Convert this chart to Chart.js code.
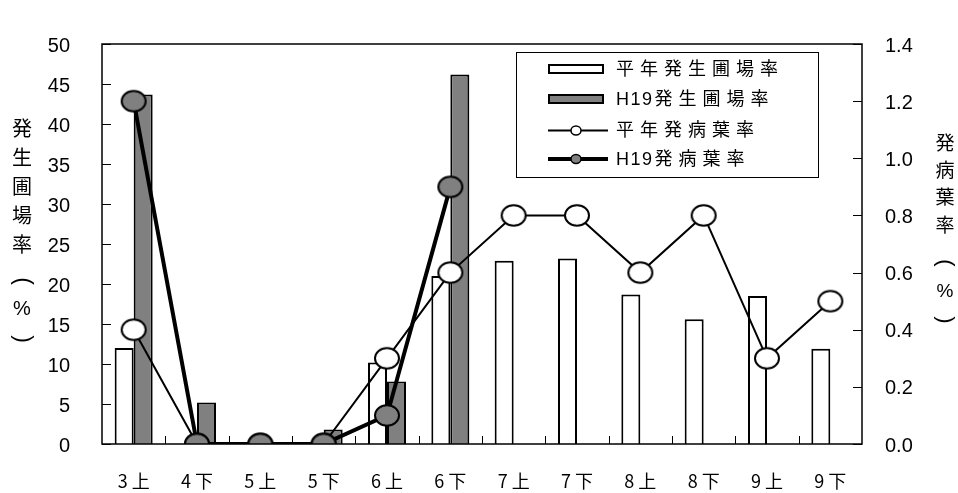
<!DOCTYPE html>
<html>
<head>
<meta charset="utf-8">
<script src="https://cdn.jsdelivr.net/npm/chart.js@4/dist/chart.umd.min.js"></script>
<style>
  html, body { margin: 0; padding: 0; background: #fff; }
  canvas { display: block; }
</style>
</head>
<body>
<canvas id="c" width="958" height="493"></canvas>
<script>
// 旬別カテゴリ
const categories = ['3 上', '4 下', '5 上', '5 下', '6 上', '6 下', '7 上', '7 下', '8 上', '8 下', '9 上', '9 下'];
// 発生圃場率（%）
const avgFieldRate = [12.0, 0, 0, 0, 10.2, 21.0, 22.9, 23.2, 18.7, 15.6, 18.5, 11.9];
const h19FieldRate = [43.7, 5.2, 0, 1.8, 7.8, 46.2, null, null, null, null, null, null];
// 発病葉率（%）
const avgLeafRate = [0.4, 0, 0, 0, 0.3, 0.6, 0.8, 0.8, 0.6, 0.8, 0.3, 0.5];
const h19LeafRate = [1.2, 0, 0, 0, 0.1, 0.9, null, null, null, null, null, null];
// 軸目盛
const leftTicks = [0, 5, 10, 15, 20, 25, 30, 35, 40, 45, 50];
const rightTicks = [0, 0.2, 0.4, 0.6, 0.8, 1.0, 1.2, 1.4];
const legendLabels = ['平年発生圃場率', 'H19発生圃場率', '平年発病葉率', 'H19発病葉率'];
// 縦書き軸タイトル（括弧は横倒しで描く）
const leftTitle = ['発', '生', '圃', '場', '率', '(', '%', ')'];
const rightTitle = ['発', '病', '葉', '率', '(', '%', ')'];

const GRAY = '#808080';
const CJK_FONT = '"Noto Sans CJK JP", sans-serif';

function ellipseMarker(fill) {
  const c = document.createElement('canvas');
  c.width = 28; c.height = 25;
  const g = c.getContext('2d');
  g.beginPath();
  g.ellipse(14, 12.5, 12, 10.3, 0, 0, Math.PI * 2);
  g.fillStyle = fill;
  g.fill();
  g.lineWidth = 2;
  g.strokeStyle = '#000';
  g.stroke();
  return c;
}

// "H19" は詰めて、漢字部分は字間を空けて描く
function drawLegendText(ctx, text, x, y) {
  const m = text.match(/^([A-Za-z0-9]*)(.*)$/);
  let cx = x;
  if (m[1]) {
    ctx.letterSpacing = '1.5px';
    ctx.fillText(m[1], cx, y);
    cx += ctx.measureText(m[1]).width + 1;
  }
  ctx.letterSpacing = '6px';
  ctx.fillText(m[2], cx, y);
  ctx.letterSpacing = '0px';
}

function drawVerticalTitle(ctx, chars, ys, x, size) {
  chars.forEach((ch, i) => {
    if (ch === '(' || ch === ')') {
      ctx.save();
      ctx.translate(x, ys[i]);
      ctx.rotate(Math.PI / 2);
      ctx.font = (size + 3) + 'px "Liberation Sans", sans-serif';
      ctx.fillText(ch, 0, 0);
      ctx.restore();
    } else {
      ctx.font = size + 'px ' + (ch === '%' ? '"Liberation Sans", sans-serif' : CJK_FONT);
      ctx.fillText(ch, x, ys[i]);
    }
  });
}

// 枠線・内向き目盛・縦書き軸タイトル・凡例
const decorations = {
  id: 'decorations',
  beforeDatasetsDraw(chart) {
    const { ctx, chartArea: a, scales } = chart;
    ctx.save();
    ctx.strokeStyle = '#000';
    ctx.lineWidth = 1;
    // 左軸目盛
    leftTicks.forEach(v => {
      const y = Math.round(scales.y.getPixelForValue(v)) + 0.5;
      ctx.beginPath(); ctx.moveTo(a.left, y); ctx.lineTo(a.left + 9, y); ctx.stroke();
    });
    // 右軸目盛
    rightTicks.forEach(v => {
      const y = Math.round(scales.y2.getPixelForValue(v)) + 0.5;
      ctx.beginPath(); ctx.moveTo(a.right, y); ctx.lineTo(a.right - 9, y); ctx.stroke();
    });
    // 横軸目盛（カテゴリ境界）
    const xs = scales.x;
    for (let i = 1; i < categories.length; i++) {
      const x = Math.round((xs.getPixelForValue(i - 1) + xs.getPixelForValue(i)) / 2) + 0.5;
      ctx.beginPath(); ctx.moveTo(x, a.bottom); ctx.lineTo(x, a.bottom - 8); ctx.stroke();
    }
    ctx.restore();
  },
  afterDatasetsDraw(chart) {
    const { ctx, chartArea: a } = chart;
    ctx.save();
    // プロット枠
    ctx.strokeStyle = '#000';
    ctx.lineWidth = 1.5;
    ctx.strokeRect(a.left, a.top, a.right - a.left, a.bottom - a.top);

    // 縦書きタイトル
    ctx.fillStyle = '#000';
    ctx.textAlign = 'center';
    ctx.textBaseline = 'middle';
    drawVerticalTitle(ctx, leftTitle, [128, 157, 186, 215, 244, 281, 309, 339], 22, 20);
    drawVerticalTitle(ctx, rightTitle, [143, 170, 197, 225, 263, 292, 320], 945, 19);

    // 凡例
    const bx = 516, by = 52, bw = 302, bh = 125;
    ctx.fillStyle = '#fff';
    ctx.fillRect(bx, by, bw, bh);
    ctx.lineWidth = 1;
    ctx.strokeStyle = '#000';
    ctx.strokeRect(bx + 0.5, by + 0.5, bw, bh);
    const rows = [69, 99, 130.5, 159];
    const ds = chart.data.datasets;
    // 棒の凡例
    [0, 1].forEach(k => {
      ctx.fillStyle = ds[k].backgroundColor;
      ctx.fillRect(549, rows[k] - 4, 54, 8);
      ctx.lineWidth = 2;
      ctx.strokeRect(549, rows[k] - 4, 54, 8);
    });
    // 折れ線の凡例
    [2, 3].forEach(k => {
      ctx.lineWidth = ds[k].borderWidth;
      ctx.beginPath(); ctx.moveTo(548, rows[k]); ctx.lineTo(608, rows[k]); ctx.stroke();
      ctx.beginPath(); ctx.ellipse(576, rows[k], 5, 4.5, 0, 0, Math.PI * 2);
      ctx.fillStyle = k === 2 ? '#fff' : GRAY;
      ctx.fill();
      ctx.lineWidth = 1.5;
      ctx.stroke();
    });
    ctx.fillStyle = '#000';
    ctx.textAlign = 'left';
    ctx.textBaseline = 'middle';
    ctx.font = '18px "Liberation Sans", ' + CJK_FONT;
    legendLabels.forEach((t, i) => drawLegendText(ctx, t, 616, rows[i] + 1));
    ctx.restore();
  }
};

new Chart(document.getElementById('c'), {
  data: {
    labels: categories,
    datasets: [
      {
        type: 'bar', label: legendLabels[0], data: avgFieldRate, yAxisID: 'y', order: 3,
        backgroundColor: '#fff', borderColor: '#000', borderWidth: 2,
        categoryPercentage: 0.6, barPercentage: 1.0
      },
      {
        type: 'bar', label: legendLabels[1], data: h19FieldRate, yAxisID: 'y', order: 4,
        backgroundColor: GRAY, borderColor: '#000', borderWidth: 2,
        categoryPercentage: 0.6, barPercentage: 1.0
      },
      {
        type: 'line', label: legendLabels[2], data: avgLeafRate, yAxisID: 'y2', order: 2,
        borderColor: '#000', borderWidth: 2, tension: 0,
        pointStyle: ellipseMarker('#fff'), pointRadius: 12, pointHoverRadius: 12
      },
      {
        type: 'line', label: legendLabels[3], data: h19LeafRate, yAxisID: 'y2', order: 1,
        borderColor: '#000', borderWidth: 4, tension: 0, spanGaps: false,
        pointStyle: ellipseMarker(GRAY), pointRadius: 12, pointHoverRadius: 12
      }
    ]
  },
  options: {
    responsive: false,
    animation: false,
    devicePixelRatio: 1,
    layout: { padding: { top: 18, left: 0, right: 0, bottom: 0 }, autoPadding: false },
    plugins: { legend: { display: false }, tooltip: { enabled: false } },
    scales: {
      x: {
        offset: true,
        grid: { display: false, drawTicks: false },
        border: { display: false },
        ticks: {
          color: '#000', padding: 26, maxRotation: 0, autoSkip: false,
          font: { family: '"Liberation Sans Narrow", "Noto Sans CJK JP", sans-serif', size: 18 }
        },
        afterFit(s) { s.height = 49; }
      },
      y: {
        position: 'left', min: 0, max: 50,
        grid: { display: false, drawTicks: false },
        border: { display: false },
        afterBuildTicks(s) { s.ticks = leftTicks.map(v => ({ value: v })); },
        ticks: {
          color: '#000', padding: 32, labelOffset: 2,
          font: { family: '"Liberation Sans", Arial, sans-serif', size: 20 }
        },
        afterFit(s) { s.width = 102; }
      },
      y2: {
        position: 'right', min: 0, max: 1.4,
        grid: { display: false, drawTicks: false },
        border: { display: false },
        afterBuildTicks(s) { s.ticks = rightTicks.map(v => ({ value: v })); },
        ticks: {
          color: '#000', padding: 23, labelOffset: 2,
          font: { family: '"Liberation Sans", Arial, sans-serif', size: 20 },
          callback: v => Number(v).toFixed(1)
        },
        afterFit(s) { s.width = 96; }
      }
    }
  },
  plugins: [decorations]
});
</script>
</body>
</html>
